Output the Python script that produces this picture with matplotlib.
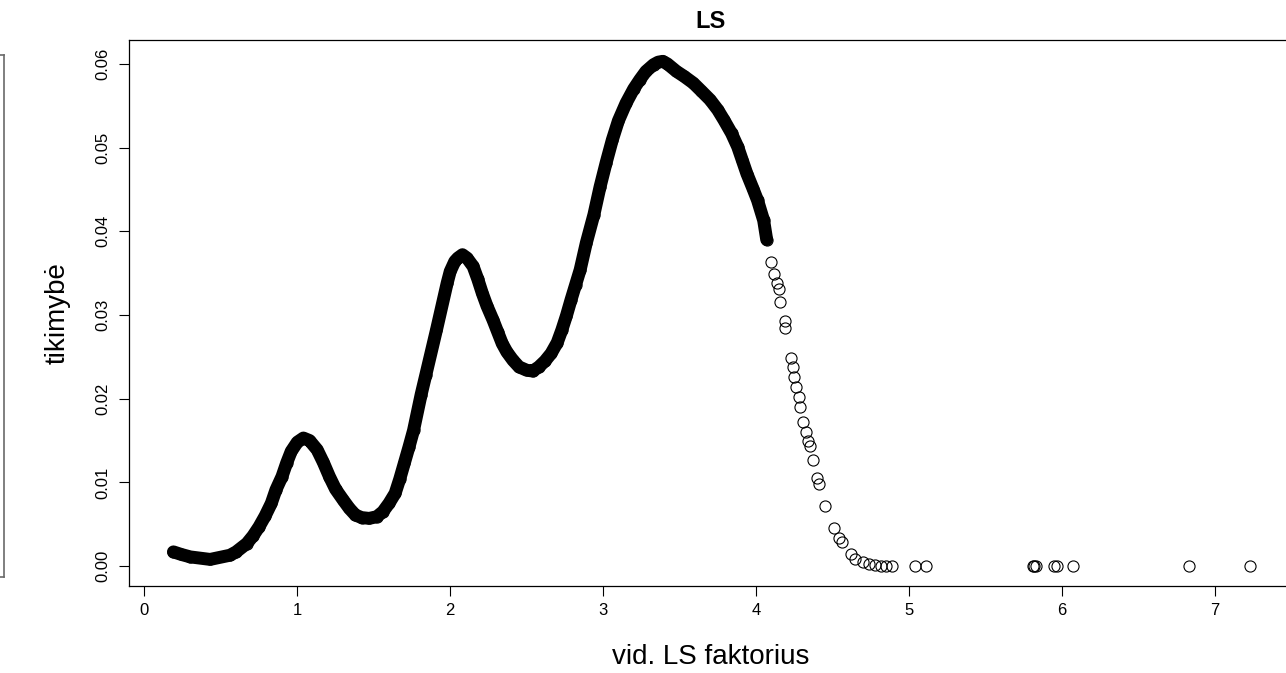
import matplotlib.pyplot as plt
from matplotlib.lines import Line2D

plt.rcParams['font.family'] = ['Liberation Sans', 'DejaVu Sans']

# dense part of the curve (solid band of overlapping circles)
band_x = [0.19, 0.24, 0.30, 0.43, 0.56, 0.60, 0.67, 0.71, 0.75, 0.79,
          0.83, 0.86, 0.90, 0.93, 0.96, 1.00, 1.04, 1.08, 1.13, 1.17,
          1.21, 1.25, 1.30, 1.34, 1.38, 1.42, 1.47, 1.52, 1.56, 1.60,
          1.64, 1.67, 1.70, 1.73, 1.76, 1.81, 1.84, 1.91, 1.98, 2.00,
          2.03, 2.05, 2.08, 2.11, 2.15, 2.18, 2.21, 2.24, 2.28, 2.31,
          2.34, 2.37, 2.41, 2.45, 2.50, 2.54, 2.58, 2.62, 2.66, 2.70,
          2.73, 2.76, 2.79, 2.82, 2.85, 2.89, 2.94, 2.98, 3.02, 3.06,
          3.10, 3.15, 3.20, 3.24, 3.28, 3.33, 3.36, 3.39, 3.42, 3.48,
          3.53, 3.59, 3.64, 3.70, 3.75, 3.79, 3.84, 3.88, 3.91, 3.94,
          3.98, 4.01, 4.05, 4.07]
band_y = [0.0017, 0.0014, 0.0011, 0.0008, 0.0013, 0.0017, 0.0027, 0.0036, 0.0047, 0.0060,
          0.0075, 0.0091, 0.0107, 0.0123, 0.0137, 0.0148, 0.0153, 0.0150, 0.0139, 0.0124,
          0.0107, 0.0092, 0.0079, 0.0069, 0.0061, 0.0058, 0.0057, 0.0059, 0.0065, 0.0075,
          0.0087, 0.0104, 0.0123, 0.0142, 0.0162, 0.0205, 0.0228, 0.0282, 0.0338, 0.0352,
          0.0364, 0.0368, 0.0372, 0.0368, 0.0358, 0.0343, 0.0326, 0.0311, 0.0294, 0.0280,
          0.0266, 0.0256, 0.0246, 0.0238, 0.0234, 0.0233, 0.0238, 0.0245, 0.0254, 0.0267,
          0.0282, 0.0299, 0.0318, 0.0336, 0.0354, 0.0386, 0.0420, 0.0453, 0.0482, 0.0509,
          0.0532, 0.0553, 0.0570, 0.0581, 0.0591, 0.0599, 0.0602, 0.0603, 0.0600, 0.0591,
          0.0585, 0.0577, 0.0568, 0.0557, 0.0545, 0.0533, 0.0517, 0.0501, 0.0485, 0.0469,
          0.0451, 0.0437, 0.0413, 0.0390]

# sparse tail, individual circles
tail_x = [4.10, 4.12, 4.14, 4.15, 4.16, 4.19, 4.19, 4.23, 4.24, 4.25,
          4.26, 4.28, 4.29, 4.31, 4.33, 4.34, 4.35, 4.37, 4.40, 4.41,
          4.45, 4.51, 4.54, 4.56, 4.62, 4.65, 4.70, 4.74, 4.78, 4.82,
          4.85, 4.89, 5.04, 5.11, 5.81, 5.82, 5.83, 5.95, 5.97, 6.07,
          6.83, 7.23]
tail_y = [0.0363, 0.0349, 0.0338, 0.0331, 0.0316, 0.0293, 0.0285, 0.0249, 0.0238, 0.0226,
          0.0214, 0.0202, 0.0190, 0.0172, 0.0160, 0.0150, 0.0143, 0.0127, 0.0105, 0.0098,
          0.0072, 0.0045, 0.0033, 0.0029, 0.0015, 0.0009, 0.0005, 0.0003, 0.0001, 0.0,
          0.0, 0.0, 0.0, 0.0, 0.0, 0.0, 0.0, 0.0, 0.0, 0.0,
          0.0, 0.0]

x_ticks = [0, 1, 2, 3, 4, 5, 6, 7]
y_ticks = [0.00, 0.01, 0.02, 0.03, 0.04, 0.05, 0.06]

W, H = 1286, 673
fig = plt.figure(figsize=(W / 100, H / 100), dpi=100, facecolor="white")
ax = fig.add_axes([128.8 / W, (H - 586.2) / H, (1293 - 128.8) / W, (586.2 - 40.4) / H])

ax.plot(band_x, band_y, color="black", lw=9.3, solid_capstyle="round",
        solid_joinstyle="round")
ax.plot(band_x + tail_x, band_y + tail_y, linestyle="none", marker="o", ms=8,
        mfc="none", mec="black", mew=0.8)

ax.set_xlim(-0.102, 7.512)
ax.set_ylim(-0.0024, 0.0628)
ax.set_xticks(x_ticks)
ax.set_xticklabels([str(t) for t in x_ticks])
ax.set_yticks(y_ticks)
ax.set_yticklabels(["%.2f" % t for t in y_ticks], rotation=90, va="center")
ax.tick_params(direction="out", length=7, width=0.8, labelsize=12)
ax.tick_params(axis="x", pad=5)
ax.tick_params(axis="y", pad=6)
for s in ax.spines.values():
    s.set_linewidth(0.9)

ax.set_title("LS", fontsize=17, fontweight="bold", pad=9)
ax.set_xlabel("vid. LS faktorius", fontsize=20, labelpad=19)
ax.set_ylabel("tikimybė", fontsize=20, labelpad=18)

# edge of the neighbouring box, cut off at the left
ys = [(H - 55) / H, (H - 577) / H]
fig.add_artist(Line2D([4 / W, 4 / W], ys, color="#6a6a6a", lw=1.2))
fig.add_artist(Line2D([0, 4 / W], [ys[0], ys[0]], color="#6a6a6a", lw=1.2))
fig.add_artist(Line2D([0, 4 / W], [ys[1], ys[1]], color="#6a6a6a", lw=1.2))

fig.savefig("out.png", dpi=100, facecolor="white")
